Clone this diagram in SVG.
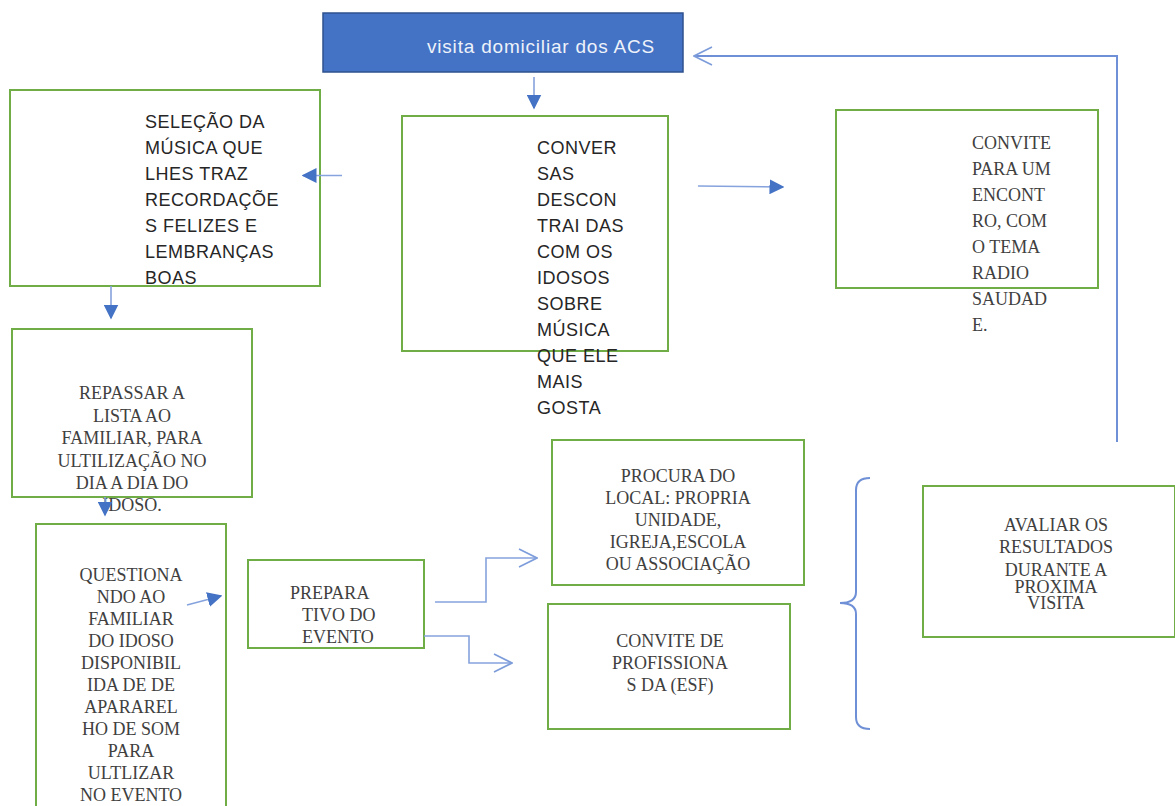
<svg xmlns="http://www.w3.org/2000/svg" width="1175" height="806" viewBox="0 0 1175 806">
<defs>
<marker id="fill" viewBox="0 0 10 10" refX="9" refY="5" markerWidth="15" markerHeight="15" markerUnits="userSpaceOnUse" orient="auto">
<path d="M0,0 L10,5 L0,10 Z" fill="#4472C4"/>
</marker>
<marker id="open" viewBox="0 0 20 20" refX="19" refY="10" markerWidth="20" markerHeight="20" markerUnits="userSpaceOnUse" orient="auto">
<path d="M1,1 L19,10 L1,19" fill="none" stroke="#7D9CDA" stroke-width="1.6"/>
</marker>
</defs>
<style>
.box{fill:#fff;stroke:#70AD47;stroke-width:2}
.sans{font-family:"Liberation Sans",Arial,sans-serif;font-size:18px;fill:#262626;letter-spacing:0.5px}
.serif{font-family:"Liberation Serif","Times New Roman",serif;font-size:18px;fill:#404040}
.mid{text-anchor:middle}
.ln{fill:none;stroke:#86A3DD;stroke-width:1.6}
.ln2{fill:none;stroke:#6F90D6;stroke-width:2}
</style>
<rect width="1175" height="806" fill="#fff"/>

<g id="visita">
<rect x="323" y="13" width="360" height="59" fill="#4472C4" stroke="#2F528F" stroke-width="1.5"/>
<text x="427" y="53" font-family="Liberation Sans, Arial, sans-serif" font-size="19" letter-spacing="0.8" fill="#EEF2FA">visita domiciliar dos ACS</text>
</g>

<g id="selecao">
<rect class="box" x="10" y="90" width="310" height="196"/>
<text class="sans" x="145"><tspan x="145" y="128">SELEÇÃO DA</tspan><tspan x="145" y="154">MÚSICA QUE</tspan><tspan x="145" y="180">LHES TRAZ</tspan><tspan x="145" y="206">RECORDAÇÕE</tspan><tspan x="145" y="232">S FELIZES E</tspan><tspan x="145" y="258">LEMBRANÇAS</tspan><tspan x="145" y="284">BOAS</tspan></text>
</g>

<g id="conversas">
<rect class="box" x="402" y="116" width="266" height="235"/>
<text class="sans" x="537"><tspan x="537" y="154">CONVER</tspan><tspan x="537" y="180">SAS</tspan><tspan x="537" y="206">DESCON</tspan><tspan x="537" y="232">TRAI DAS</tspan><tspan x="537" y="258">COM OS</tspan><tspan x="537" y="284">IDOSOS</tspan><tspan x="537" y="310">SOBRE</tspan><tspan x="537" y="336">MÚSICA</tspan><tspan x="537" y="362">QUE ELE</tspan><tspan x="537" y="388">MAIS</tspan><tspan x="537" y="414">GOSTA</tspan></text>
</g>

<g id="convite">
<rect class="box" x="836" y="110" width="262" height="178"/>
<text class="serif" x="972"><tspan x="972" y="149">CONVITE</tspan><tspan x="972" y="175">PARA UM</tspan><tspan x="972" y="201">ENCONT</tspan><tspan x="972" y="227">RO, COM</tspan><tspan x="972" y="253">O TEMA</tspan><tspan x="972" y="279">RADIO</tspan><tspan x="972" y="305">SAUDAD</tspan><tspan x="972" y="331">E.</tspan></text>
</g>

<g id="repassar">
<rect class="box" x="12" y="329" width="240" height="168"/>
<text class="serif mid"><tspan x="132" y="399">REPASSAR A</tspan><tspan x="132" y="421.5">LISTA AO</tspan><tspan x="132" y="444">FAMILIAR, PARA</tspan><tspan x="132" y="466.5">ULTILIZAÇÃO NO</tspan><tspan x="132" y="489">DIA A DIA DO</tspan><tspan x="132" y="511">IDOSO.</tspan></text>
</g>

<g id="questionando">
<rect class="box" x="36" y="524" width="190" height="300"/>
<text class="serif mid"><tspan x="131" y="581">QUESTIONA</tspan><tspan x="131" y="603">NDO AO</tspan><tspan x="131" y="625">FAMILIAR</tspan><tspan x="131" y="647">DO IDOSO</tspan><tspan x="131" y="669">DISPONIBIL</tspan><tspan x="131" y="691">IDA DE DE</tspan><tspan x="131" y="713">APARAREL</tspan><tspan x="131" y="735">HO DE SOM</tspan><tspan x="131" y="757">PARA</tspan><tspan x="131" y="779">ULTLIZAR</tspan><tspan x="131" y="801">NO EVENTO</tspan></text>
</g>

<g id="preparativo">
<rect class="box" x="248" y="560" width="176" height="88"/>
<text class="serif"><tspan x="290" y="599">PREPARA</tspan><tspan x="302" y="621">TIVO DO</tspan><tspan x="302" y="643">EVENTO</tspan></text>
</g>

<g id="procura">
<rect class="box" x="552" y="440" width="252" height="145"/>
<text class="serif mid"><tspan x="678" y="482">PROCURA DO</tspan><tspan x="678" y="504">LOCAL: PROPRIA</tspan><tspan x="678" y="526">UNIDADE,</tspan><tspan x="678" y="548">IGREJA,ESCOLA</tspan><tspan x="678" y="570">OU ASSOCIAÇÃO</tspan></text>
</g>

<g id="profissionais">
<rect class="box" x="548" y="604" width="242" height="125"/>
<text class="serif mid"><tspan x="670" y="647">CONVITE DE</tspan><tspan x="670" y="669">PROFISSIONA</tspan><tspan x="670" y="691">S DA (ESF)</tspan></text>
</g>

<g id="avaliar">
<rect class="box" x="923" y="486" width="252" height="151"/>
<text class="serif mid"><tspan x="1056" y="531">AVALIAR OS</tspan><tspan x="1056" y="553">RESULTADOS</tspan><tspan x="1056" y="576">DURANTE A</tspan><tspan x="1056" y="593">PROXIMA</tspan><tspan x="1056" y="609">VISITA</tspan></text>
</g>

<g id="connectors">
<line class="ln" x1="534" y1="77" x2="534" y2="108" marker-end="url(#fill)"/>
<line class="ln" x1="342" y1="175.5" x2="303" y2="175.5" marker-end="url(#fill)"/>
<line class="ln" x1="698" y1="186" x2="783" y2="187" marker-end="url(#fill)"/>
<line class="ln" x1="111" y1="286" x2="111" y2="318" marker-end="url(#fill)"/>
<line class="ln" x1="105" y1="497" x2="105" y2="515" marker-end="url(#fill)"/>
<line class="ln" x1="187" y1="605" x2="221" y2="596" marker-end="url(#fill)"/>
<path class="ln2" d="M1117,442 L1117,56 L694,56" marker-end="url(#open)"/>
<path class="ln" d="M435,602 L486,602 L486,558 L537,558" marker-end="url(#open)"/>
<path class="ln" d="M424,636 L469,636 L469,663 L512,663" marker-end="url(#open)"/>
<path class="ln2" d="M870,478 Q856,478 856,490 L856,592 Q856,603 840,603 Q856,603 856,614 L856,717 Q856,729 870,729"/>
</g>
</svg>
